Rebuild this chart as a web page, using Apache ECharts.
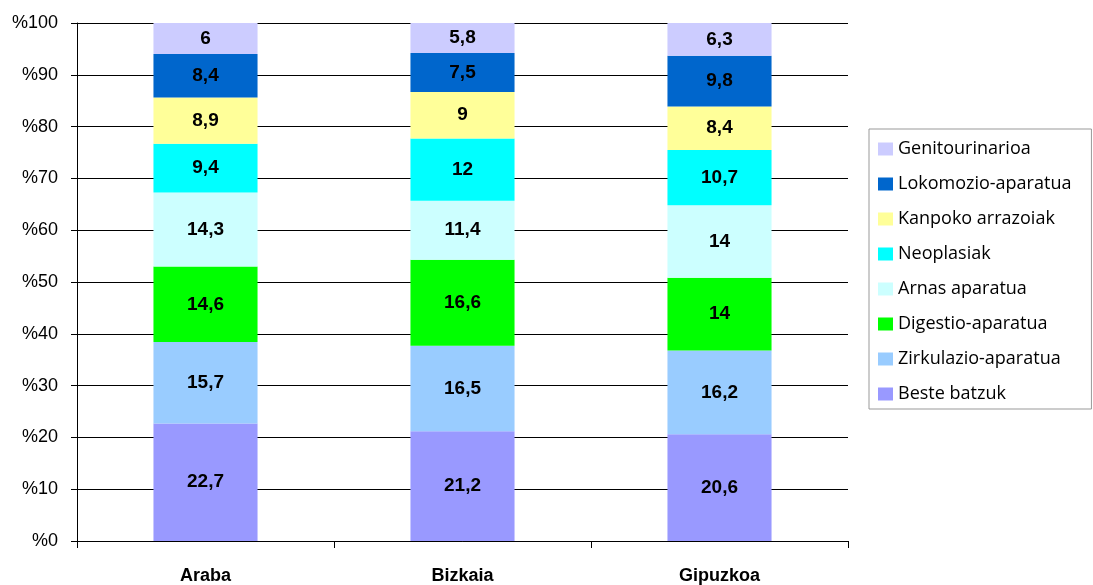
<!DOCTYPE html>
<html>
<head>
<meta charset="utf-8">
<script src="https://cdn.jsdelivr.net/npm/echarts@6/dist/echarts.min.js"></script>
<style>
  html, body { margin: 0; padding: 0; background: #fff; }
  #main { width: 1093px; height: 585px; }
</style>
</head>
<body>
<div id="main"></div>
<script>
// lurraldeak
const categories = ['Araba', 'Bizkaia', 'Gipuzkoa'];

// behetik gora pilatuta
const besteBatzuk = [22.7, 21.2, 20.6];
const zirkulazio = [15.7, 16.5, 16.2];
const digestio = [14.6, 16.6, 14];
const arnas = [14.3, 11.4, 14];
const neoplasiak = [9.4, 12, 10.7];
const kanpoko = [8.9, 9, 8.4];
const lokomozio = [8.4, 7.5, 9.8];
const genitourinarioa = [6, 5.8, 6.3];

const yTicks = [0, 10, 20, 30, 40, 50, 60, 70, 80, 90, 100];

const seriesDefs = [
  { name: 'Beste batzuk', data: besteBatzuk, color: '#9999FF' },
  { name: 'Zirkulazio-aparatua', data: zirkulazio, color: '#99CCFF' },
  { name: 'Digestio-aparatua', data: digestio, color: '#00FF00' },
  { name: 'Arnas aparatua', data: arnas, color: '#CCFFFF' },
  { name: 'Neoplasiak', data: neoplasiak, color: '#00FFFF' },
  { name: 'Kanpoko arrazoiak', data: kanpoko, color: '#FFFF99' },
  { name: 'Lokomozio-aparatua', data: lokomozio, color: '#0066CC' },
  { name: 'Genitourinarioa', data: genitourinarioa, color: '#CCCCFF' }
];

let myChart = echarts.init(document.getElementById('main'));

const option = {
  animation: false,
  grid: { left: 77, right: 245, top: 23, bottom: 43 },
  legend: {
    orient: 'vertical',
    left: 869,
    top: 129,
    data: seriesDefs.map(s => s.name).reverse(),
    itemWidth: 15,
    itemHeight: 13,
    itemGap: 15,
    padding: [10, 20, 5, 9],
    borderColor: '#999',
    borderWidth: 1,
    icon: 'rect',
    textStyle: {
      fontFamily: '"Open Sans", "Noto Sans", sans-serif',
      fontSize: 18,
      lineHeight: 20,
      color: '#000'
    }
  },
  xAxis: {
    type: 'category',
    data: categories,
    axisLine: { lineStyle: { color: '#000', width: 1 } },
    axisTick: { show: true, length: 7, lineStyle: { color: '#000' } },
    axisLabel: {
      margin: 26,
      color: '#000',
      fontFamily: '"Liberation Sans", Arial, sans-serif',
      fontWeight: 'bold',
      fontSize: 18
    }
  },
  yAxis: {
    type: 'value',
    min: yTicks[0],
    max: yTicks[yTicks.length - 1],
    interval: 10,
    axisLine: { show: true, lineStyle: { color: '#000', width: 1 } },
    axisTick: { show: true, length: 6, lineStyle: { color: '#000' } },
    splitLine: { lineStyle: { color: '#000', width: 1 } },
    axisLabel: {
      margin: 19,
      color: '#000',
      fontFamily: '"Liberation Sans", Arial, sans-serif',
      fontSize: 18,
      formatter: v => '%' + v
    }
  },
  series: seriesDefs.map(s => ({
    name: s.name,
    type: 'bar',
    stack: 'total',
    barWidth: '40.5%',
    data: s.data,
    itemStyle: { color: s.color },
    label: {
      show: true,
      position: 'inside',
      color: '#000',
      fontFamily: '"Liberation Sans", Arial, sans-serif',
      fontWeight: 'bold',
      fontSize: 19,
      formatter: p => String(p.value).replace('.', ',')
    }
  }))
};

option && myChart.setOption(option);
</script>
</body>
</html>
